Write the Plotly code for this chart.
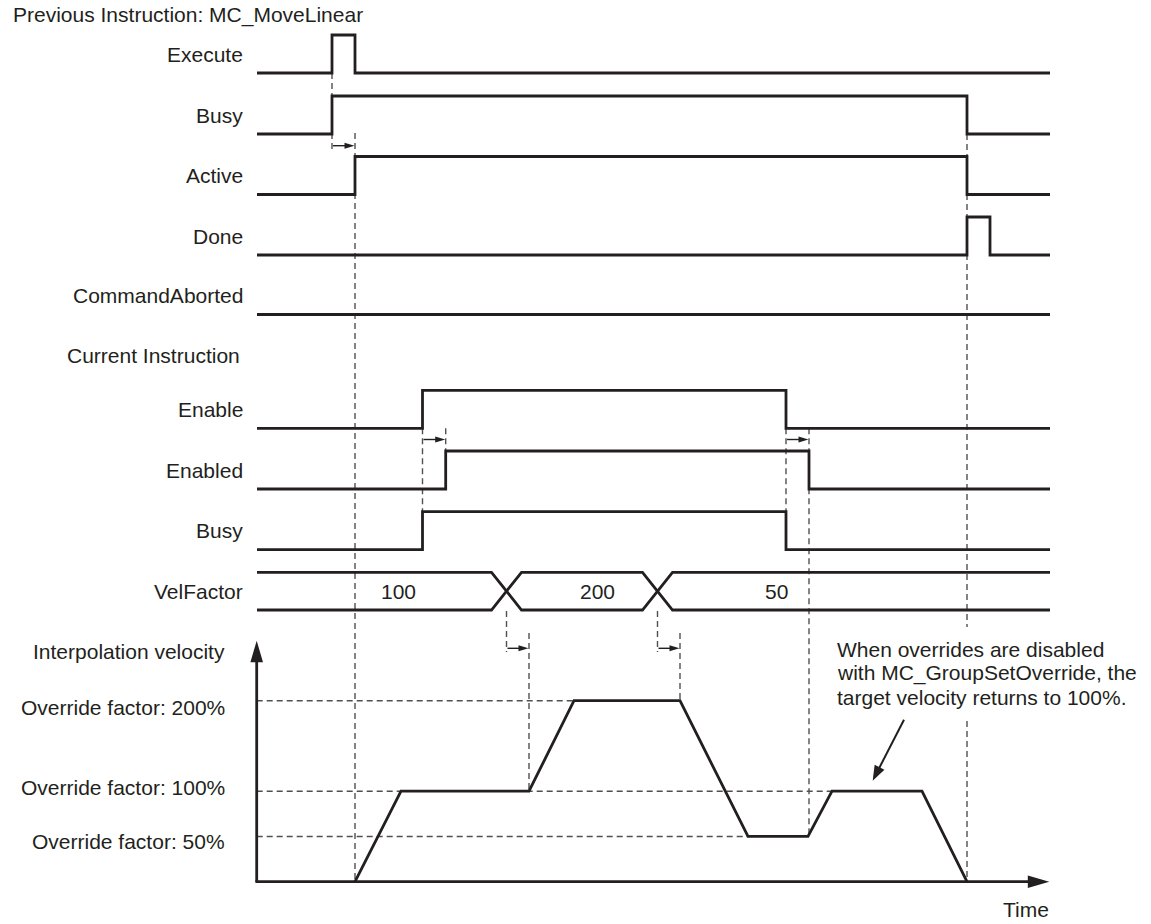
import math
import plotly.graph_objects as go

# ------------------------------------------------------------------
# DATA  (time axis in drawing units)
# ------------------------------------------------------------------
T_START, T_END = 257, 1050

prev_title = "Previous Instruction: MC_MoveLinear"
cur_title = "Current Instruction"

signal_names = ["Execute", "Busy", "Active", "Done", "CommandAborted",
                "Enable", "Enabled", "Busy"]
# toggle times of each BOOL signal (starts FALSE)
execute_edges = [332, 355]
busy_prev_edges = [332, 967]
active_edges = [355, 967]
done_edges = [967, 990]
cmd_aborted_edges = []
enable_edges = [422.5, 786]
enabled_edges = [445.7, 809]
busy_cur_edges = [422.5, 786]
signal_edges = [execute_edges, busy_prev_edges, active_edges, done_edges,
                cmd_aborted_edges, enable_edges, enabled_edges, busy_cur_edges]

velfactor_name = "VelFactor"
velfactor_values = ["100", "200", "50"]
velfactor_change = [506.5, 657.5]
velfactor_label_t = [398, 597, 776]

vel_title = "Interpolation velocity"
vel_t = [355, 401, 529, 574, 680, 748, 808, 832, 922, 967]
vel_pct = [0, 100, 100, 200, 200, 50, 50, 100, 100, 0]
vel_ticks = [200, 100, 50]
vel_tick_text = ["Override factor: 200%", "Override factor: 100%",
                 "Override factor: 50%"]
vel_guide_end = [574, 832, 748]

note_lines = ["When overrides are disabled",
              "with MC_GroupSetOverride, the",
              "target velocity returns to 100%."]
time_label = "Time"

# ------------------------------------------------------------------
# LAYOUT / STYLE
# ------------------------------------------------------------------
W, H = 1151, 924
INK = "#231f20"
DASH_C = "#505050"
FONT = "Liberation Sans, Arial, Helvetica, sans-serif"
FS = 21
SIG_W = 2.8
DASH = "6px,4px"

row_low = [73, 134, 194.5, 255, 314.5, 428.3, 489, 549.7]
ROW_H = 38
PAD = 0.3
LABEL_RIGHT = 245
bus_top, bus_bot = 572.3, 610
BUS_HW = 15

vel_zero_px, vel_200_px = 881.7, 700.7
vel_dom_top = 628
px_per_pct = (vel_zero_px - vel_200_px) / 200.0
VEL_LABEL_RIGHT = 227
vel_label_y = [707, 787, 841]
AXIS_X = 256.7
AXIS_TIP_Y = 640.7
AXIS_TIP_X = 1049.3

fig = go.Figure()
layout = dict(
    width=W, height=H, margin=dict(l=0, r=0, t=0, b=0),
    paper_bgcolor="white", plot_bgcolor="rgba(0,0,0,0)",
    showlegend=False, hovermode=False,
    xaxis=dict(range=[0, W], domain=[0, 1], visible=False, fixedrange=True),
    yaxis=dict(range=[H, 0], domain=[0, 1], visible=False, fixedrange=True),
)


def dom(top_px, bot_px):
    return [1 - bot_px / H, 1 - top_px / H]


shapes = []
annotations = []


def text(x, y, s, xanchor="right", yref="y", size=FS):
    annotations.append(dict(x=x, y=y, xref="x", yref=yref, text=s,
                            showarrow=False, xanchor=xanchor, yanchor="middle",
                            font=dict(family=FONT, size=size, color=INK)))


# ---- BOOL signals ----
for i, (name, edges) in enumerate(zip(signal_names, signal_edges)):
    ax_id = i + 2
    low = row_low[i]
    high = low - ROW_H
    layout[f"yaxis{ax_id}"] = dict(
        range=[-PAD, 1 + PAD], anchor="x", visible=False, fixedrange=True,
        domain=dom(high - PAD * ROW_H, low + PAD * ROW_H))
    t = [T_START] + list(edges) + [T_END]
    lv = [0]
    for _ in edges:
        lv.append(1 - lv[-1])
    lv.append(lv[-1])
    fig.add_trace(go.Scatter(x=t, y=lv, mode="lines", xaxis="x",
                             yaxis=f"y{ax_id}", line=dict(color=INK, width=SIG_W,
                                                          shape="hv")))
    text(LABEL_RIGHT, low - ROW_H / 2, name)

text(11, 15, prev_title, xanchor="left")
text(242, 355, cur_title)

# ---- VelFactor bus ----
bus_ax = len(signal_names) + 2
bh = bus_bot - bus_top
layout[f"yaxis{bus_ax}"] = dict(range=[-PAD, 1 + PAD], anchor="x", visible=False,
                                fixedrange=True,
                                domain=dom(bus_top - PAD * bh, bus_bot + PAD * bh))
for start in (1, 0):
    xs, ys = [T_START], [start]
    cur = start
    for c in velfactor_change:
        xs += [c - BUS_HW, c + BUS_HW]
        ys += [cur, 1 - cur]
        cur = 1 - cur
    xs.append(T_END)
    ys.append(cur)
    fig.add_trace(go.Scatter(x=xs, y=ys, mode="lines", xaxis="x",
                             yaxis=f"y{bus_ax}", line=dict(color=INK, width=SIG_W)))
for v, tx in zip(velfactor_values, velfactor_label_t):
    annotations.append(dict(x=tx, y=0.5, xref="x", yref=f"y{bus_ax}", text=v,
                            showarrow=False, xanchor="center", yanchor="middle",
                            font=dict(family=FONT, size=FS, color=INK)))
text(LABEL_RIGHT, (bus_top + bus_bot) / 2, velfactor_name)

# ---- Velocity chart ----
vel_ax = bus_ax + 1
layout[f"yaxis{vel_ax}"] = dict(
    range=[-(H - vel_zero_px) / px_per_pct, (vel_zero_px - vel_dom_top) / px_per_pct],
    anchor="x", visible=False, fixedrange=True, domain=dom(vel_dom_top, H))
vref = f"y{vel_ax}"

# guide lines for override factors
for v, xe in zip(vel_ticks, vel_guide_end):
    shapes.append(dict(type="line", xref="x", yref=vref, x0=AXIS_X, x1=xe, y0=v, y1=v,
                       line=dict(color=DASH_C, width=1.4, dash=DASH), layer="below"))
for s, y in zip(vel_tick_text, vel_label_y):
    text(VEL_LABEL_RIGHT, y, s)
text(VEL_LABEL_RIGHT, 651, vel_title)

fig.add_trace(go.Scatter(x=vel_t, y=vel_pct, mode="lines", xaxis="x", yaxis=vref,
                         line=dict(color=INK, width=SIG_W)))

# axes with arrowheads
shapes.append(dict(type="line", xref="x", yref="y", x0=AXIS_X, x1=AXIS_X,
                   y0=vel_zero_px, y1=AXIS_TIP_Y + 15, line=dict(color=INK, width=SIG_W)))
shapes.append(dict(type="line", xref="x", yref="y", x0=AXIS_X - 1.3, x1=AXIS_TIP_X - 15,
                   y0=vel_zero_px, y1=vel_zero_px, line=dict(color=INK, width=SIG_W)))
shapes.append(dict(type="path", xref="x", yref="y",
                   path=f"M {AXIS_X} {AXIS_TIP_Y} L {AXIS_X-6.3} {AXIS_TIP_Y+21.5} "
                        f"L {AXIS_X+6.3} {AXIS_TIP_Y+21.5} Z",
                   fillcolor=INK, line=dict(width=0)))
shapes.append(dict(type="path", xref="x", yref="y",
                   path=f"M {AXIS_TIP_X} {vel_zero_px} L {AXIS_TIP_X-21.5} {vel_zero_px-6.3} "
                        f"L {AXIS_TIP_X-21.5} {vel_zero_px+6.3} Z",
                   fillcolor=INK, line=dict(width=0)))
text(1026, 909, time_label, xanchor="center")

# ---- dashed vertical timing guides (x from event times) ----
guides = [
    (busy_prev_edges[0], 73, 153),
    (active_edges[0], 133, vel_zero_px),
    (busy_prev_edges[1], 134, 627), (busy_prev_edges[1], 721, vel_zero_px),
    (enable_edges[0], 428.3, 512.3),
    (enabled_edges[0], 428.3, 451),
    (enable_edges[1], 428.3, 549.7),
    (enabled_edges[1], 428.3, 836.3),
    (velfactor_change[0], 611, 652),
    (vel_t[2], 633, 791.3),
    (velfactor_change[1], 611, 652),
    (vel_t[4], 633, 700.7),
]
for x, y0, y1 in guides:
    shapes.append(dict(type="line", xref="x", yref="y", x0=x, x1=x, y0=y0, y1=y1,
                       line=dict(color=DASH_C, width=1.4, dash=DASH), layer="below"))


# ---- small delay arrows ----
def arrow(x0, y0, x1, y1, hl, hw, width):
    d = math.hypot(x1 - x0, y1 - y0)
    ux, uy = (x1 - x0) / d, (y1 - y0) / d
    nx, ny = -uy, ux
    bx, by = x1 - ux * hl, y1 - uy * hl
    shapes.append(dict(type="line", xref="x", yref="y", x0=x0, y0=y0,
                       x1=x1 - ux * hl * 0.6, y1=y1 - uy * hl * 0.6,
                       line=dict(color=INK, width=width)))
    shapes.append(dict(type="path", xref="x", yref="y",
                       path=f"M {x1} {y1} L {bx + nx*hw} {by + ny*hw} "
                            f"L {bx - nx*hw} {by - ny*hw} Z",
                       fillcolor=INK, line=dict(width=0)))


delay_arrows = [
    (busy_prev_edges[0], active_edges[0], 145.7),
    (enable_edges[0], enabled_edges[0], 439.5),
    (enable_edges[1], enabled_edges[1], 439.5),
    (velfactor_change[0], vel_t[2], 648.3),
    (velfactor_change[1], vel_t[4], 648.3),
]
for xa, xb, y in delay_arrows:
    arrow(xa + 1, y, xb - 0.5, y, 10, 3, 1.4)

# ---- note ----
for k, line in enumerate(note_lines):
    text(835, 649 + 24 * k, line, xanchor="left")
arrow(904, 719.7, 872.7, 780.7, 15, 5.5, 2)

layout["shapes"] = shapes
layout["annotations"] = annotations
fig.update_layout(**layout)
fig.write_html(
    "out.html",
    config={"displayModeBar": False, "staticPlot": True},
    post_script="document.body.style.margin='0';"
                "document.documentElement.style.overflow='hidden';",
)
